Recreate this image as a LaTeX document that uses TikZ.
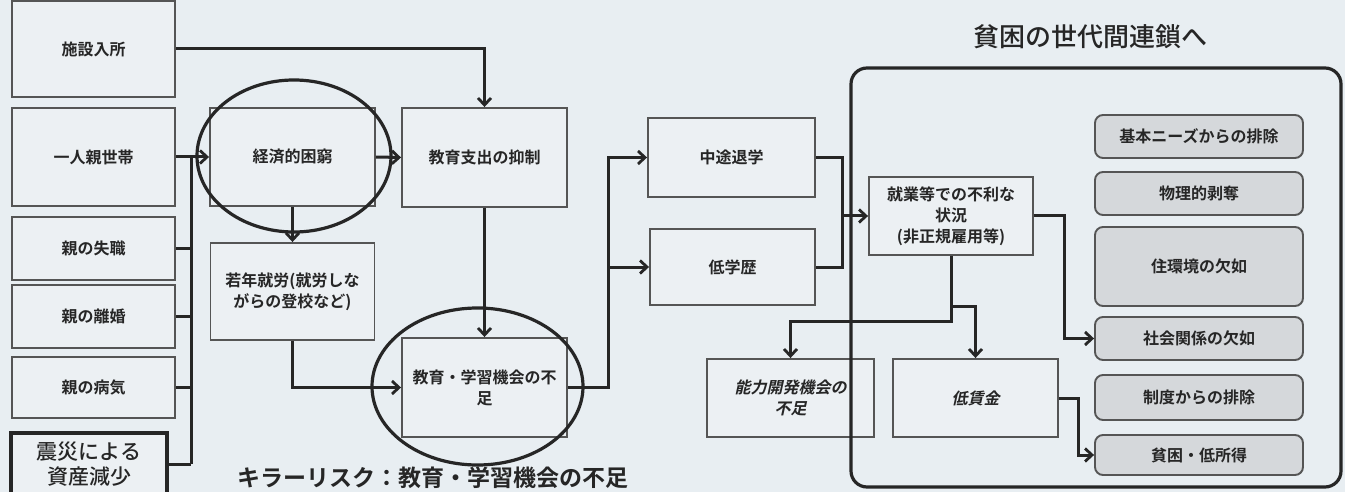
\documentclass[tikz,border=0pt]{standalone}
\usepackage{fontspec}
\setmainfont{Noto Sans CJK JP}
\newfontfamily\jpb{Noto Sans CJK JP Bold}
\newfontfamily\jpm{Noto Sans CJK JP Medium}
\newfontfamily\jpsl{Noto Sans CJK JP Bold}[FakeSlant=0.22]
\usetikzlibrary{arrows.meta,calc,shapes.geometric}
\definecolor{bg}{HTML}{E8EEF2}
\definecolor{boxfill}{HTML}{ECF0F3}
\definecolor{grayfill}{HTML}{D5D8DB}
\definecolor{ink}{HTML}{262626}
\definecolor{edge}{HTML}{555555}
\tikzset{
  sq/.style={draw=edge, line width=1.9pt, fill=boxfill, inner sep=0pt, align=center,
    text=ink, font=\jpb\fontsize{16}{21}\selectfont},
  sqi/.style={sq, font=\jpsl\fontsize{16}{21}\selectfont},
  gbox/.style={draw=edge, line width=1.9pt, fill=grayfill, rounded corners=8pt, inner sep=0pt,
    align=center, text=ink, font=\jpb\fontsize{16}{21}\selectfont, minimum width=208pt},
  oval/.style={draw=ink, line width=3.2pt, ellipse, inner sep=0pt},
  conn/.style={draw=ink, line width=3pt},
  arr/.style={conn, -{Straight Barb[length=7pt,width=13pt,line width=2.8pt]}},
}
\begin{document}
\begin{tikzpicture}[x=1pt,y=-1pt]
\useasboundingbox (0,0) rectangle (1345,492);
\fill[bg] (0,0) rectangle (1345,492);

% left column
\node[sq, minimum width=163pt, minimum height=96pt] (shisetsu) at (93.5,49) {施設入所};
\node[sq, minimum width=163pt, minimum height=98pt] (hitori) at (93.5,157) {一人親世帯};
\node[sq, minimum width=163pt, minimum height=63pt] (shitsu) at (93.5,248.5) {親の失職};
\node[sq, minimum width=163pt, minimum height=63pt] (rikon) at (93.5,316.5) {親の離婚};
\node[sq, minimum width=163pt, minimum height=61pt] (byoki) at (93.5,387.5) {親の病気};
\node[sq, draw=ink, line width=3.4pt, minimum width=156pt, minimum height=62pt,
      font=\jpm\fontsize{21}{25}\selectfont] (shinsai) at (89,464) {震災による\\資産減少};

% middle
\node[sq, minimum width=165pt, minimum height=98pt] (keizai) at (292.5,157) {経済的困窮};
\node[oval, minimum width=194pt, minimum height=152pt] (keizaiO) at (294,156) {};
\node[sq, minimum width=165pt, minimum height=99pt] (shishutsu) at (484.5,157.5) {教育支出の抑制};
\node[sq, minimum width=164pt, minimum height=97pt] (jakunen) at (292.5,291.5) {若年就労(就労しな\\がらの登校など)};
\node[sq, minimum width=165pt, minimum height=99pt] (gakushu) at (484.5,387.5) {教育・学習機会の不\\足};
\node[oval, minimum width=211pt, minimum height=157pt] (gakushuO) at (477.5,386.5) {};
\node[sq, minimum width=167pt, minimum height=79pt] (chuto) at (731.5,157.5) {中途退学};
\node[sq, minimum width=165pt, minimum height=76pt] (gakureki) at (732.5,267) {低学歴};
\node[sq, minimum width=164pt, minimum height=78pt] (shugyo) at (951,216) {就業等での不利な\\状況\\(非正規雇用等)};
\node[sqi, minimum width=167pt, minimum height=78pt] (noryoku) at (790.5,398) {能力開発機会の\\不足};
\node[sqi, minimum width=165pt, minimum height=78pt] (chingin) at (975.5,398) {低賃金};

% right gray boxes
\node[gbox, minimum height=43pt] (kihon) at (1199,136.5) {基本ニーズからの排除};
\node[gbox, minimum height=43pt] (butsuri) at (1199,193.5) {物理的剥奪};
\node[gbox, minimum height=79pt] (jukankyo) at (1199,266.5) {住環境の欠如};
\node[gbox, minimum height=43pt] (shakai) at (1199,338.5) {社会関係の欠如};
\node[gbox, minimum height=45pt] (seido) at (1199,397.5) {制度からの排除};
\node[gbox, minimum height=40pt] (hinkon) at (1199,455) {貧困・低所得};

% container and titles
\draw[ink, line width=3.2pt, rounded corners=16pt] (851,68) rectangle (1341,487);
\node[text=ink, font=\jpm\fontsize{26}{30}\selectfont] (title) at (1090,37) {貧困の世代間連鎖へ};
\node[text=ink, font=\jpb\fontsize{23}{28}\selectfont] (killer) at (433,478) {キラーリスク：教育・学習機会の不足};

% coordinates
\coordinate (bus) at (191,0);
\coordinate (s1) at (608,0);
\coordinate (m2) at (842,0);
\coordinate (c3) at (1064,0);
\coordinate (c4) at (951,321);
\coordinate (c5) at (951,306);
\coordinate (c6) at (1078,0);

% connectors
\draw[arr] (shisetsu.east) -| (shishutsu.north);
\draw[conn] (bus |- hitori.east) -- (bus |- shinsai.east);
\draw[arr] (hitori.east) -- (keizai.west);
\draw[conn] (shitsu.east) -- (bus |- shitsu.east);
\draw[conn] (rikon.east) -- (bus |- rikon.east);
\draw[conn] (byoki.east) -- (bus |- byoki.east);
\draw[conn] (shinsai.east) -- (bus |- shinsai.east);
\draw[arr] (keizai.east) -- (shishutsu.west);
\draw[arr] (keizai.south) -- (jakunen.north);
\draw[arr] (jakunen.south) |- (gakushu.west);
\draw[arr] (shishutsu.south) -- (gakushu.north);
\draw[arr] (gakushu.east) -| (s1 |- chuto.west) -- (chuto.west);
\draw[arr] (s1 |- gakureki.west) -- (gakureki.west);
\draw[conn] (chuto.east) -| (m2 |- gakureki.east) -- (gakureki.east);
\draw[arr] (m2 |- shugyo.west) -- (shugyo.west);
\draw[arr] (shugyo.east) -| (c3 |- shakai.west) -- (shakai.west);
\draw[arr] (shugyo.south) -- (c4) -| (noryoku.north);
\draw[arr] (c5) -| (chingin.north);
\draw[arr] (chingin.east) -| (c6 |- hinkon.west) -- (hinkon.west);
\end{tikzpicture}
\end{document}
